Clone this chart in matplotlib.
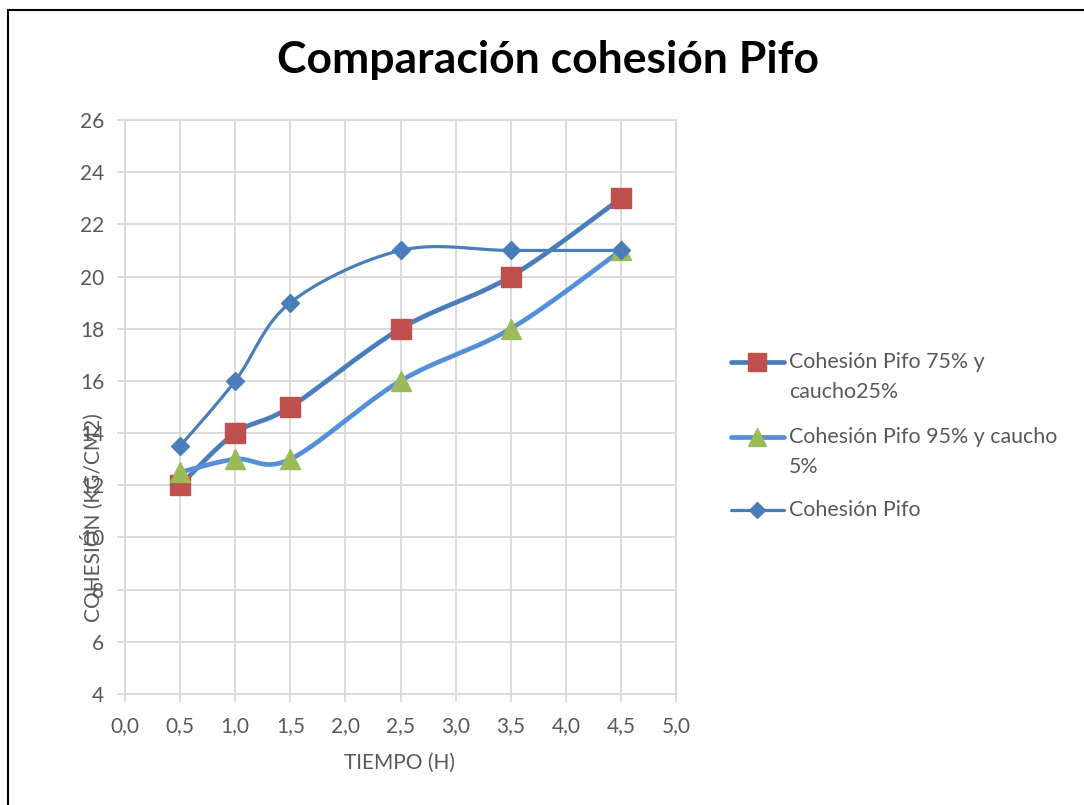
import numpy as np
import matplotlib
matplotlib.use("Agg")
import matplotlib.pyplot as plt
from matplotlib.lines import Line2D

plt.rcParams['font.family'] = ['Lato', 'DejaVu Sans']

tiempo = [0.5, 1.0, 1.5, 2.5, 3.5, 4.5]
pifo75 = [12, 14, 15, 18, 20, 23]
pifo95 = [12.5, 13, 13, 16, 18, 21]
pifo = [13.5, 16, 19, 21, 21, 21]
labels = ["Cohesión Pifo 75% y\ncaucho25%", "Cohesión Pifo 95% y caucho\n5%", "Cohesión Pifo"]
xticks = np.arange(0, 5.01, 0.5)
yticks = np.arange(4, 26.1, 2)


def smooth(x, y, n=40):
    x = np.asarray(x, float); y = np.asarray(y, float)
    px = np.concatenate([[x[0]], x, [x[-1]]])
    py = np.concatenate([[y[0]], y, [y[-1]]])
    xs, ys = [], []
    t = np.linspace(0, 1, n)
    for i in range(1, len(px) - 2):
        p0, p1, p2, p3 = [np.array([px[j], py[j]]) for j in (i - 1, i, i + 1, i + 2)]
        c1 = p1 + (p2 - p0) / 6
        c2 = p2 - (p3 - p1) / 6
        b = ((1 - t) ** 3)[:, None] * p1 + (3 * (1 - t) ** 2 * t)[:, None] * c1 + \
            (3 * (1 - t) * t ** 2)[:, None] * c2 + (t ** 3)[:, None] * p2
        xs.append(b[:, 0]); ys.append(b[:, 1])
    return np.concatenate(xs), np.concatenate(ys)


fig = plt.figure(figsize=(10.84, 8.05), dpi=100)
ax = fig.add_axes([125 / 1084, 1 - 694 / 805, (676 - 125) / 1084, (694 - 120) / 805])

series = [
    (pifo75, '#4A7EBB', 3.4, 's', '#C0504D', 14),
    (pifo95, '#5590D6', 3.4, '^', '#9BBB59', 14),
    (pifo, '#4A7EBB', 2.3, 'D', '#4A7EBB', 9),
]
for k, (yv, lc, lw, mk, mc, ms) in enumerate(series):
    sx, sy = smooth(tiempo, yv)
    ax.plot(sx, sy, color=lc, lw=lw, solid_capstyle='round', zorder=3 + k)
    ax.plot(tiempo, yv, ls='none', marker=mk, ms=ms, mfc=mc, mec=mc, zorder=3 + k)

ax.set_xlim(0, 5)
ax.set_ylim(4, 26)
ax.set_xticks(xticks)
ax.set_yticks(yticks)
ax.set_xticklabels([f"{v:.1f}".replace('.', ',') for v in xticks])
ax.set_yticklabels([f"{int(v)}" for v in yticks])
ax.grid(True, color='#D9D9D9', lw=1.3, zorder=0)
ax.set_axisbelow(True)
for s in ax.spines.values():
    s.set_color('#D9D9D9'); s.set_linewidth(1.3)
ax.tick_params(axis='both', colors='#D9D9D9', labelcolor='#595959', labelsize=15,
               length=6, width=1.3, direction='out')
ax.tick_params(axis='x', pad=10)
ax.tick_params(axis='y', pad=9)

fig.text(400 / 1084, 1 - 763 / 805, "TIEMPO (H)", ha='center', va='center', fontsize=15, color='#595959')
fig.text(92 / 1084, 1 - 518 / 805, "COHESIÓN (KG/CM2)", ha='center', va='center', rotation=90,
         fontsize=15, color='#595959')
fig.text(548 / 1084, 1 - 60 / 805, "Comparación cohesión Pifo", ha='center', va='center',
         fontsize=32, fontweight='bold', color='black')

# legend
W, H = 1084, 805
ys_leg = [362, 437, 510]
for (yv, lc, lw, mk, mc, ms), lab, yl in zip(series, labels, ys_leg):
    yy = 1 - yl / H
    fig.add_artist(Line2D([731 / W, 784 / W], [yy, yy], color=lc, lw=lw, solid_capstyle='round',
                          transform=fig.transFigure))
    fig.add_artist(Line2D([757 / W], [yy], ls='none', marker=mk, ms=ms * 0.95, mfc=mc, mec=mc,
                          transform=fig.transFigure))
    for j, line in enumerate(lab.split('\n')):
        fig.text(789 / W, 1 - (yl + 30 * j) / H, line, ha='left', va='center', fontsize=15.4, color='#595959')

# border
fig.add_artist(Line2D([8 / W, 8 / W], [0, 1 - 10 / H], color='black', lw=1.5, transform=fig.transFigure))
fig.add_artist(Line2D([8 / W, 1], [1 - 10 / H, 1 - 10 / H], color='black', lw=1.5, transform=fig.transFigure))

fig.savefig("out.png", dpi=100)
